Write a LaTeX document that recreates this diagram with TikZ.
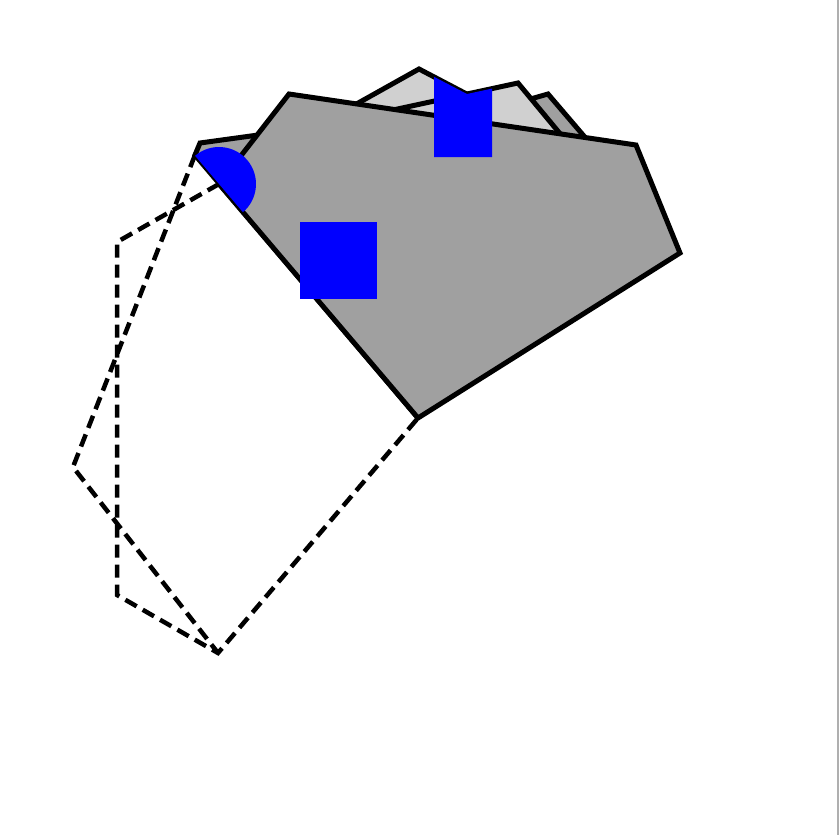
\documentclass[tikz,border=0pt]{standalone}
\begin{document}
\begin{tikzpicture}[x=1pt,y=-1pt,
  edge/.style={line width=5pt,line join=miter},
  dashedge/.style={line width=4.5pt,dash pattern=on 13pt off 7pt},
  darkface/.style={fill={rgb,255:red,160;green,160;blue,160}},
  lightface/.style={fill={rgb,255:red,208;green,208;blue,208}},
  blueface/.style={fill={rgb,255:red,0;green,0;blue,255}}]
\useasboundingbox (0,0) rectangle (839,835);
\fill[white] (0,0) rectangle (839,835);
\draw[line width=2pt,color={rgb,255:red,175;green,175;blue,175}] (837.5,0) -- (837.5,835);
% named points
\coordinate (P1) at (418,418);
\coordinate (P2) at (680,253);
\coordinate (P3) at (636,145);
\coordinate (P4) at (289,94);
\coordinate (P5) at (219,184);
\coordinate (A2) at (117,242);
\coordinate (A3) at (117,595);
\coordinate (A4) at (218,653);
\coordinate (B1) at (195,155);
\coordinate (B2) at (73,467);
% dashed outlines
\draw[dashedge] (B1) -- (B2) -- (A4);
\draw[dashedge] (P5) -- (A2) -- (A3) -- (A4) -- (P1);
% back faces
\draw[edge,darkface] (548,94) -- (595,149) -- (540,150) -- (520,102) -- cycle;
\draw[edge,lightface] (419,69) -- (480,101) -- (480,140) -- (340,130) -- (340,113.2) -- cycle;
\draw[edge,lightface] (518,83) -- (385,111.7) -- (385,140) -- (570,145.7) -- cycle;
\draw[edge,darkface] (B1) -- (200,143) -- (280,132) -- (330,300) -- (P1) -- cycle;
% main face
\draw[edge,darkface] (P1) -- (P2) -- (P3) -- (P4) -- (P5) -- cycle;
% blue marks
\fill[blueface] (P5) ++(-130.3:37) arc[start angle=-130.3,end angle=49.7,radius=37] -- cycle;
\fill[blueface] (300,222) rectangle (377,299);
\fill[blueface] (434,76.8) -- (467,94) -- (492,88.6) -- (492,157) -- (434,157) -- cycle;
\end{tikzpicture}
\end{document}
